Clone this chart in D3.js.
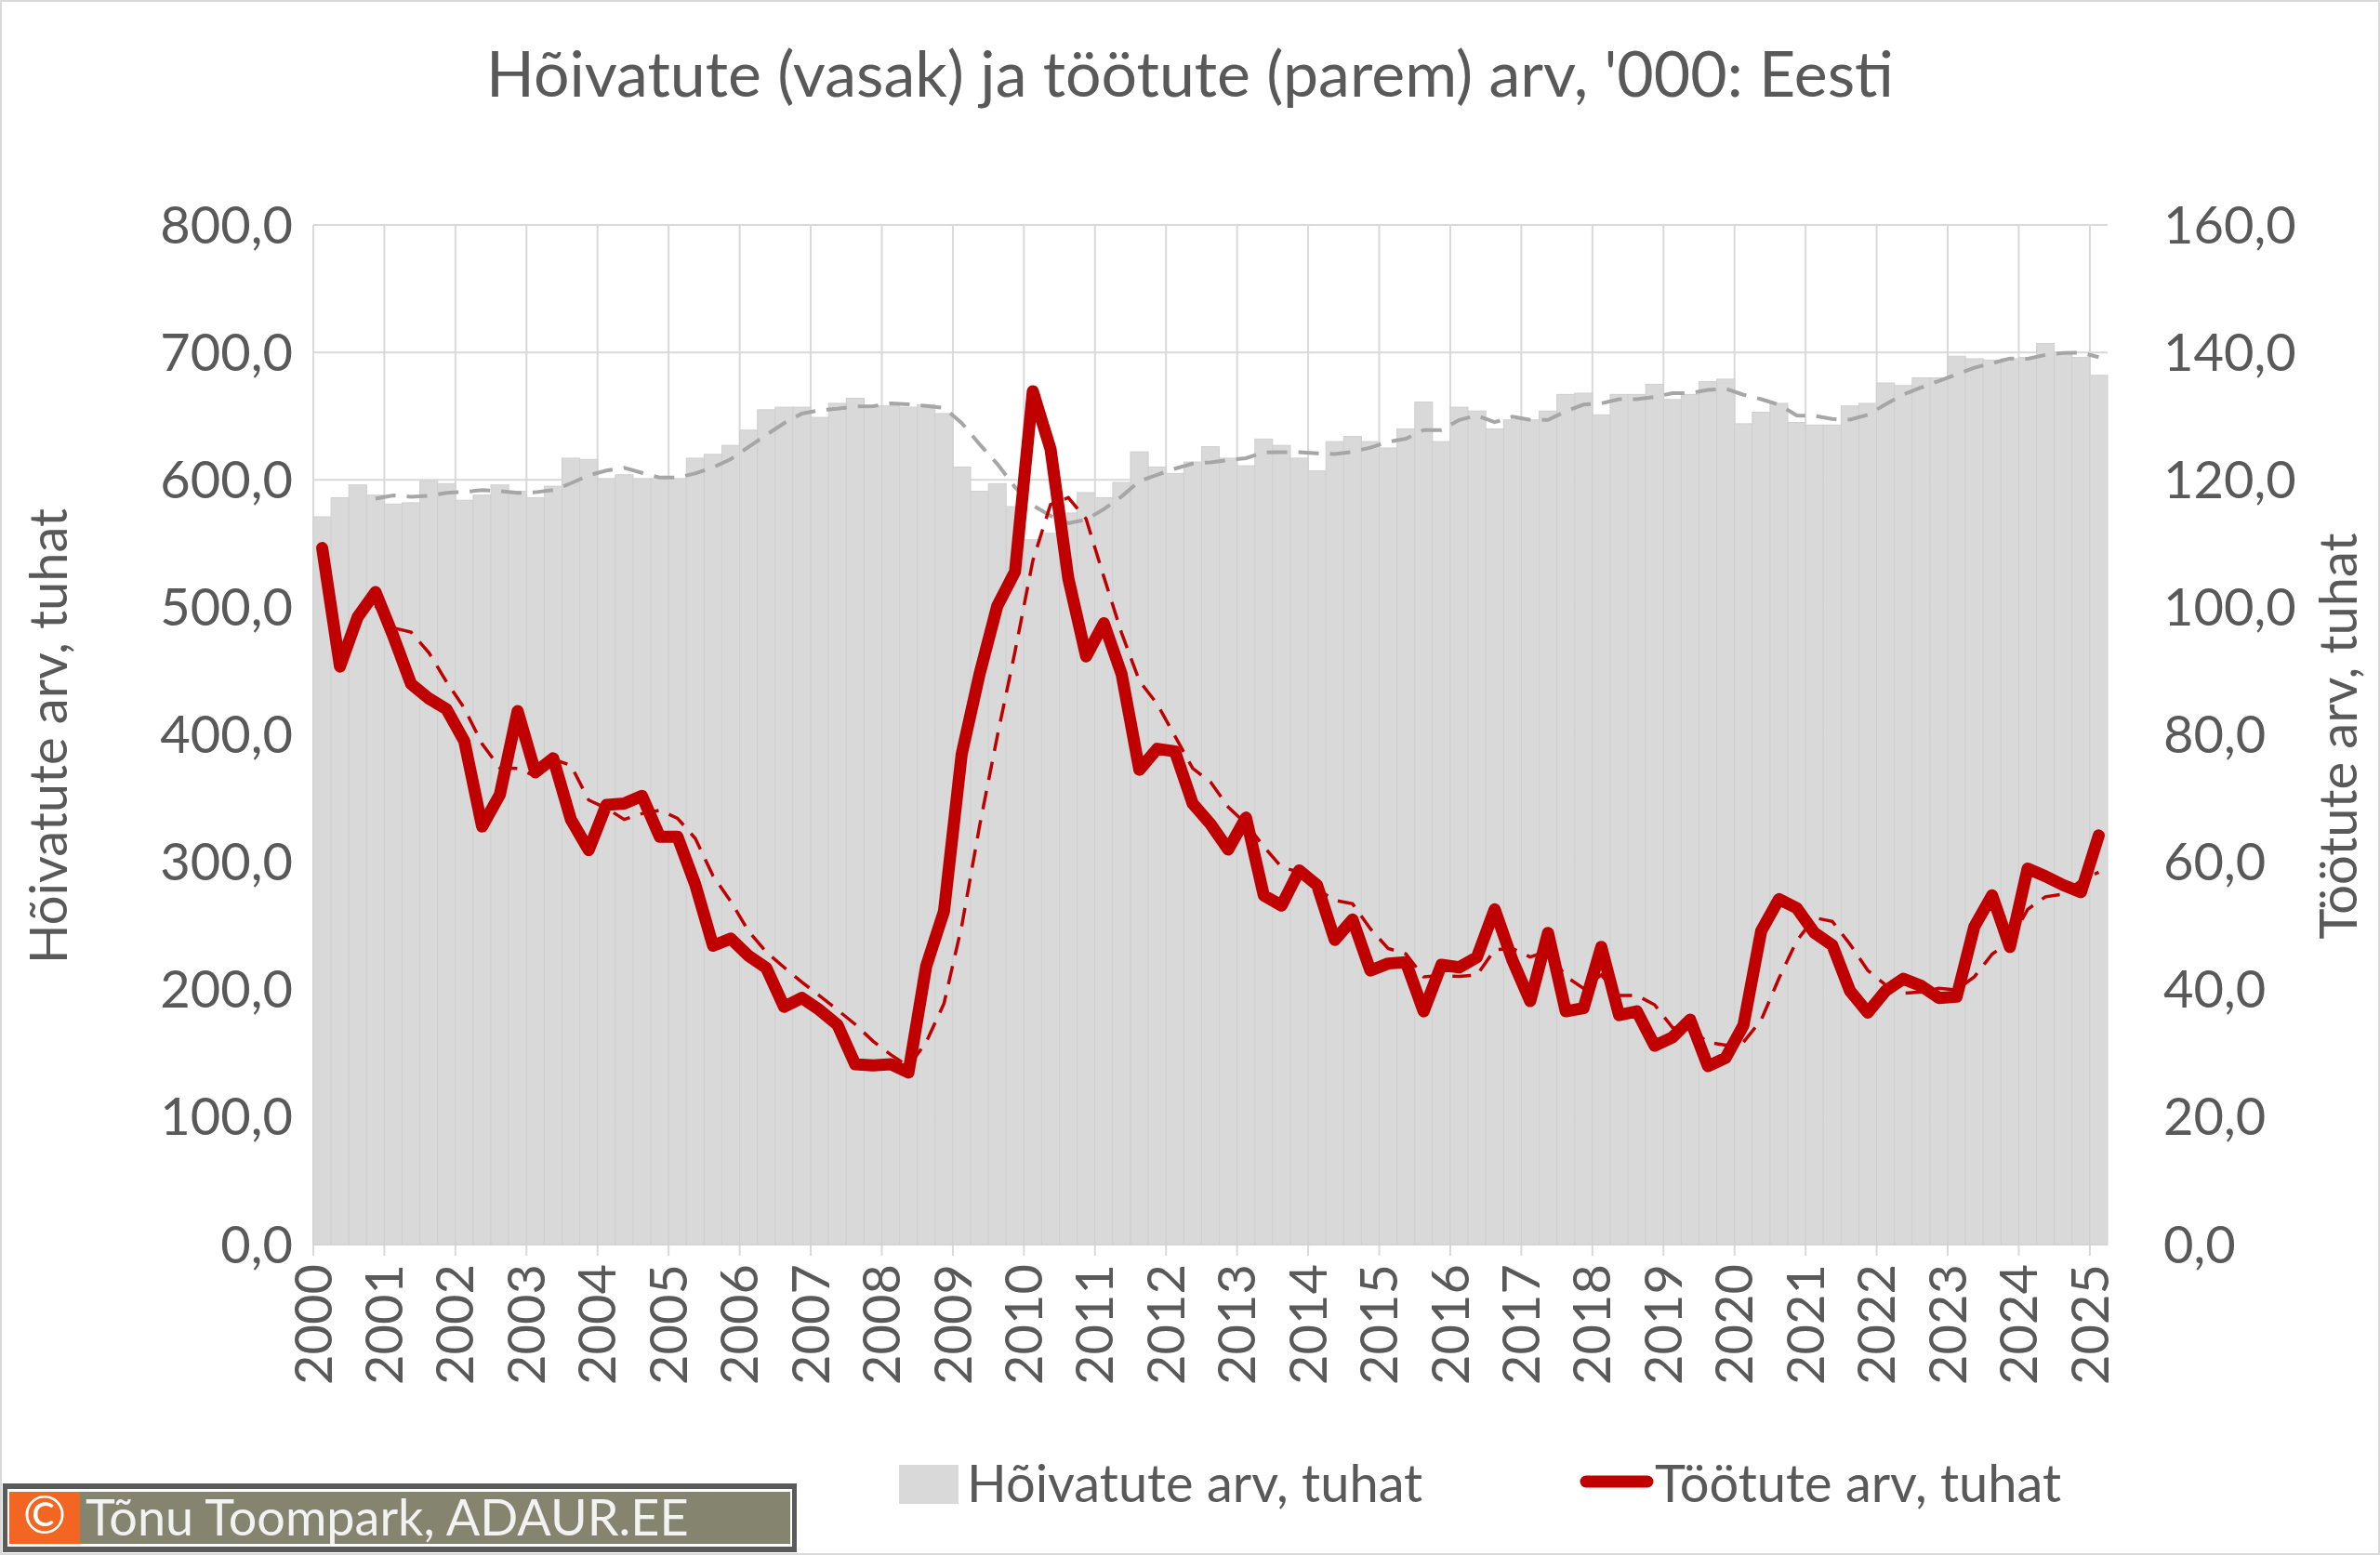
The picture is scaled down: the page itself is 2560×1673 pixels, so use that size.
<!DOCTYPE html>
<html><head><meta charset="utf-8">
<script src="https://cdn.jsdelivr.net/npm/d3@7"></script>
<style>body{margin:0;background:#fff}svg{display:block}</style>
</head><body>
<script>
const years = d3.range(2000, 2026);
const employed = [
571,586,596,588, 581,582,599,597, 584,588,596,591, 586,595,617,616,
601,604,601,601, 601,617,620,627, 639,655,657,657, 649,660,664,658,
658,657,659,652, 610,591,597,579, 553,558,574,590, 586,598,622,610,
605,614,626,617, 611,632,627,617, 607,630,634,630, 625,640,661,630,
657,654,640,647, 647,654,667,668, 651,667,667,675, 663,667,677,679,
644,653,660,645, 643,643,658,660, 676,674,680,680, 697,695,694,695,
696,707,700,696, 682];
const unemployed = [
109.3,90.7,98.5,102.4, 95.5,88,85.7,84, 79,65.6,70.6,83.7, 74.1,76.3,66.7,61.9,
69,69.2,70.4,64, 64,56.5,46.9,48, 45.3,43.4,37.3,38.7, 36.8,34.5,28.3,28.1,
28.3,27,43.7,52.3, 77,89.5,100.2,105.6, 133.9,124.8,104.5,92.3, 97.5,89.5,74.5,77.8,
77.4,69.2,66,62, 67,54.8,53.2,58.7, 56.4,47.8,51,43, 44.1,44.3,36.6,43.9,
43.5,45.1,52.6,44.6, 38.2,48.9,36.6,37.1, 46.7,36,36.6,31.2, 32.5,35.3,28,29.3,
34.4,49.2,54.2,52.8, 48.9,47,39.8,36.4, 39.8,41.7,40.6,38.7, 38.9,49.9,54.8,46.7,
59,57.8,56.4,55.3, 64.2];
const leftTicks = d3.range(0, 801, 100);
const rightTicks = d3.range(0, 161, 20);

const W = 2560, H = 1673;
const L = 337, R = 2267, T = 242, B = 1339;
const font = "Lato, 'Open Sans', sans-serif";
const txt = "#595959";

const svg = d3.select("body").append("svg").attr("width", W).attr("height", H);
svg.append("rect").attr("x",1).attr("y",1).attr("width",W-2).attr("height",H-2)
  .attr("fill","#fff").attr("stroke","#d9d9d9").attr("stroke-width",2);

const x = d3.scaleLinear().domain([0, 101]).range([L, R]);
const yL = d3.scaleLinear().domain([0, 800]).range([B, T]);
const yR = d3.scaleLinear().domain([0, 160]).range([B, T]);

// gridlines
const g = svg.append("g");
g.selectAll(".hg").data(leftTicks).join("line")
  .attr("x1", L).attr("x2", R).attr("y1", d => yL(d)).attr("y2", d => yL(d))
  .attr("stroke", "#d9d9d9").attr("stroke-width", 2);
g.selectAll(".vg").data(years).join("line")
  .attr("x1", d => x((d-2000)*4)).attr("x2", d => x((d-2000)*4))
  .attr("y1", T).attr("y2", B + 12)
  .attr("stroke", "#d9d9d9").attr("stroke-width", 2);

// bars
const bw = x(1) - x(0);
svg.append("g").selectAll("rect").data(employed).join("rect")
  .attr("x", (d,i) => x(i)).attr("width", bw)
  .attr("y", d => yL(d)).attr("height", d => B - yL(d))
  .attr("fill", "#d9d9d9").attr("stroke", "#cfcfcf").attr("stroke-width", 1);

function ma(arr){ return arr.map((v,i)=> i<3 ? null : d3.mean(arr.slice(i-3,i+1))); }
const cx = i => x(i + 0.5);

const lineL = d3.line().defined(d=>d!=null).x((d,i)=>cx(i)).y(d=>yL(d));
const lineR = d3.line().defined(d=>d!=null).x((d,i)=>cx(i)).y(d=>yR(d));

svg.append("path").datum(ma(employed)).attr("d", lineL)
  .attr("fill","none").attr("stroke","#a6a6a6").attr("stroke-width",4).attr("stroke-dasharray","22,12");
svg.append("path").datum(ma(unemployed)).attr("d", lineR)
  .attr("fill","none").attr("stroke","#c00000").attr("stroke-width",3.5).attr("stroke-dasharray","20,12");
svg.append("path").datum(unemployed).attr("d", lineR)
  .attr("fill","none").attr("stroke","#c00000").attr("stroke-width",13)
  .attr("stroke-linejoin","round").attr("stroke-linecap","round");

// axes labels
const fmt = v => d3.format(".1f")(v).replace(".", ",");
svg.append("g").selectAll("text").data(leftTicks).join("text")
  .attr("x", 315).attr("y", d => yL(d)).attr("dy","0.35em").attr("text-anchor","end")
  .attr("font-family", font).attr("font-size", 56).attr("fill", txt).text(fmt);
svg.append("g").selectAll("text").data(rightTicks).join("text")
  .attr("x", 2327).attr("y", d => yR(d)).attr("dy","0.35em").attr("text-anchor","start")
  .attr("font-family", font).attr("font-size", 56).attr("fill", txt).text(fmt);
svg.append("g").selectAll("text").data(years).join("text")
  .attr("transform", d => `translate(${x((d-2000)*4)},1360) rotate(-90)`)
  .attr("dy","0.35em").attr("text-anchor","end")
  .attr("font-family", font).attr("font-size", 56).attr("fill", txt).text(d=>d);

svg.append("text").attr("transform","translate(52,792) rotate(-90)").attr("dy","0.35em")
  .attr("text-anchor","middle").attr("font-family",font).attr("font-size",56).attr("fill",txt)
  .text("Hõivatute arv, tuhat");
svg.append("text").attr("transform","translate(2515,792) rotate(-90)").attr("dy","0.35em")
  .attr("text-anchor","middle").attr("font-family",font).attr("font-size",56).attr("fill",txt)
  .text("Töötute arv, tuhat");

svg.append("text").attr("x",1280).attr("y",104).attr("text-anchor","middle")
  .attr("font-family",font).attr("font-size",68).attr("fill",txt)
  .text("Hõivatute (vasak) ja töötute (parem) arv, '000: Eesti");

// legend
svg.append("rect").attr("x",967).attr("y",1576).attr("width",64).attr("height",42).attr("fill","#d9d9d9");
svg.append("text").attr("x",1040).attr("y",1616).attr("font-family",font).attr("font-size",56).attr("fill",txt)
  .text("Hõivatute arv, tuhat");
svg.append("line").attr("x1",1706).attr("x2",1772).attr("y1",1594).attr("y2",1594)
  .attr("stroke","#c00000").attr("stroke-width",13).attr("stroke-linecap","round");
svg.append("text").attr("x",1780).attr("y",1616).attr("font-family",font).attr("font-size",56).attr("fill",txt)
  .text("Töötute arv, tuhat");

// copyright box
svg.append("rect").attr("x",3).attr("y",1596).attr("width",854).attr("height",74).attr("fill","#5a5a5a");
svg.append("rect").attr("x",8).attr("y",1602).attr("width",844).attr("height",62).attr("fill","#ffffff");
svg.append("rect").attr("x",10).attr("y",1605).attr("width",840).attr("height",56).attr("fill","#85846f");
svg.append("rect").attr("x",10).attr("y",1605).attr("width",76).attr("height",56).attr("fill","#f26522");
svg.append("text").attr("x",48).attr("y",1650).attr("text-anchor","middle").attr("font-family",font)
  .attr("font-size",56).attr("fill","#fff").text("©");
svg.append("text").attr("x",92).attr("y",1652).attr("font-family",font).attr("font-size",54)
  .attr("fill","#f2f2f2").text("Tõnu Toompark, ADAUR.EE");
</script>
</body></html>
